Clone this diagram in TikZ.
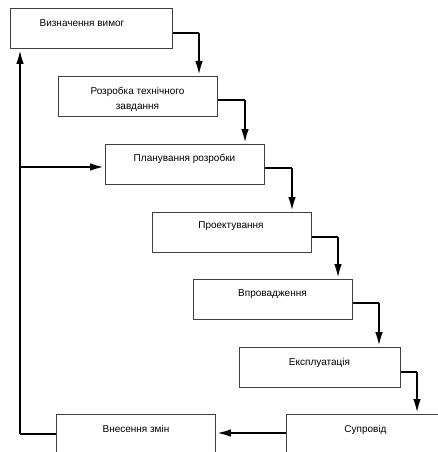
\documentclass[tikz,border=0pt]{standalone}
\usepackage{fontspec}
\setmainfont{Liberation Sans}
\usetikzlibrary{arrows.meta}
\begin{document}
\begin{tikzpicture}[x=1pt,y=-1pt,
  box/.style={draw=black!75,line width=0.9pt,minimum width=159pt,minimum height=40pt,inner sep=0pt,anchor=north west},
  lbl/.style={anchor=base,inner sep=0pt,align=center,font=\fontsize{10}{15.5}\selectfont},
  thinl/.style={line width=1.2pt},
  thickl/.style={line width=2.5pt,-{Latex[length=15pt,width=7.5pt]}}]
\useasboundingbox (0,0) rectangle (438,452);
\begin{scope}
\clip (0,0) rectangle (438,452);
\node[box,minimum width=162pt] (b1) at (10,8) {};
\node[box] (b2) at (58,76) {};
\node[box] (b3) at (105,144) {};
\node[box] (b4) at (152,212) {};
\node[box] (b5) at (193,279) {};
\node[box,minimum width=161pt] (b6) at (239,347) {};
\node[box] (b7) at (286,414) {};
\node[box] (b8) at (56,414) {};
\end{scope}
\node[lbl] (t1) at (82,26.5) {Визначення вимог};
\node[lbl] (t2) at (137.5,109.5) {Розробка технічного\\завдання};
\node[lbl] (t3) at (184.5,161.5) {Планування розробки};
\node[lbl] (t4) at (231,228.5) {Проектування};
\node[lbl] (t5) at (272.5,296.5) {Впровадження};
\node[lbl] (t6) at (319.5,365.5) {Експлуатація};
\node[lbl] (t7) at (365.5,432.5) {Супровід};
\node[lbl] (t8) at (136,432.5) {Внесення змін};
% step connectors
\coordinate (c1) at (199,33);
\coordinate (c2) at (245,100);
\coordinate (c3) at (292,168);
\coordinate (c4) at (338,237);
\coordinate (c5) at (379,303);
\coordinate (c6) at (417,372);
\draw[thinl] (b1.east |- c1) -- (c1);
\draw[thickl] (c1) -- (c1 |- b2.north);
\draw[thinl] (b2.east |- c2) -- (c2);
\draw[thickl] (c2) -- (c2 |- b3.north);
\draw[thinl] (b3.east |- c3) -- (c3);
\draw[thickl] (c3) -- (c3 |- b4.north);
\draw[thinl] (b4.east |- c4) -- (c4);
\draw[thickl] (c4) -- (c4 |- b5.north);
\draw[thinl] (b5.east |- c5) -- (c5);
\draw[thickl] (c5) -- (c5 |- b6.north);
\draw[thinl] (b6.east |- c6) -- (c6);
\draw[thickl] (c6) -- (c6 |- b7.north);
% Супровід -> Внесення змін
\coordinate (r) at (0,433);
\draw[thickl] (b7.west |- r) -- (b8.east |- r);
% feedback
\coordinate (f0) at (20,434);
\coordinate (fb) at (20,167);
\draw[thinl] (b8.west |- f0) -- (f0);
\draw[thickl] (f0) -- (f0 |- b1.south);
\draw[thickl] (fb) -- (fb -| b3.west);
\end{tikzpicture}
\end{document}
